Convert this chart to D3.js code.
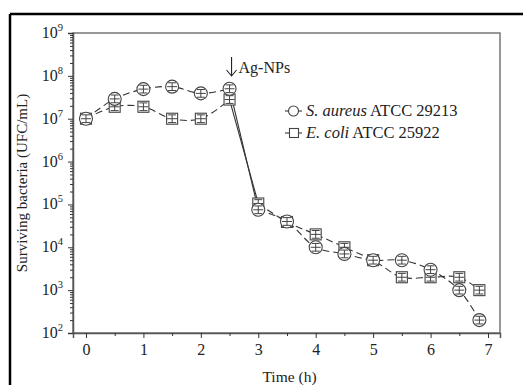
<!DOCTYPE html>
<html>
<head>
<meta charset="utf-8">
<script src="https://cdn.jsdelivr.net/npm/d3@7"></script>
<style>
body{margin:0;background:#fff;}
svg text{font-family:"Liberation Serif","DejaVu Serif",serif;fill:#222;}
</style>
</head>
<body>
<div id="chart"></div>
<script>
// time points (h)
var times = [0,0.5,1,1.5,2,2.5,3,3.5,4,4.5,5,5.5,6,6.5,6.85];
// S. aureus ATCC 29213 (UFC/mL)
var aureus = [1e7,2.9e7,4.9e7,5.6e7,3.9e7,5e7,7.5e4,4e4,1e4,7e3,5e3,5e3,3e3,1e3,2e2];
// E. coli ATCC 25922 (UFC/mL)
var coli = [1e7,1.9e7,1.9e7,1e7,1e7,2.8e7,1.05e5,3.9e4,2e4,1e4,5e3,2e3,2e3,2e3,1e3];
// error (log10 units) drawn inside the markers
var aureusErr = [0.09,0.09,0.09,0.09,0.09,0.09,0.09,0.09,0.09,0.09,0.09,0.09,0.09,0.09,0.09];
var coliErr = [0.09,0.09,0.09,0.09,0.09,0.09,0.09,0.09,0.09,0.09,0.09,0.09,0.09,0.09,0.09];
var xTicks = [0,1,2,3,4,5,6,7];
var xMinor = [0.5,1.5,2.5,3.5,4.5,5.5,6.5];
var yExp = [2,3,4,5,6,7,8,9];
var seriesNames = ["S. aureus", "E. coli"];
var seriesStrains = [" ATCC 29213", " ATCC 25922"];
var dropFrom = 2.5, dropTo = 3;

var width = 523, height = 385;
var m = {left:73, right:23, top:33, bottom:52};
var innerW = width - m.left - m.right;
var innerH = height - m.top - m.bottom;

var svg = d3.select("#chart").append("svg")
	.attr("width", width)
	.attr("height", height);

// outer black frame (only top and left show)
svg.append("line").attr("x1",10).attr("x2",width).attr("y1",14).attr("y2",14)
	.attr("stroke","#000").attr("stroke-width",2.5);
svg.append("line").attr("x1",10).attr("x2",10).attr("y1",14).attr("y2",height)
	.attr("stroke","#000").attr("stroke-width",2.5);

var g = svg.append("g").attr("transform","translate(" + m.left + "," + m.top + ")");

var xScale = d3.scaleLinear().domain([-0.226,7.209]).range([0,innerW]);
var yScale = d3.scaleLog().domain([1e2,1e9]).range([innerH,0]);

// plot box
g.append("rect").attr("width",innerW).attr("height",innerH)
	.attr("fill","none").attr("stroke","#777").attr("stroke-width",1.5);

// x axis
var xAxis = d3.axisBottom(xScale).tickValues(xTicks).tickSize(5).tickPadding(6).tickFormat(d3.format("d"));
var gx = g.append("g").attr("transform","translate(0," + innerH + ")").call(xAxis);
gx.select(".domain").attr("stroke","#555").attr("stroke-width",1.5);
gx.selectAll(".tick line").attr("stroke","#333");
gx.selectAll("text").style("font-size","16px").attr("fill","#222");
g.append("g").attr("transform","translate(0," + innerH + ")")
	.call(d3.axisBottom(xScale).tickValues(xMinor).tickSize(3).tickFormat(""))
	.call(function(s){ s.select(".domain").remove(); s.selectAll("line").attr("stroke","#333"); });

// y axis
var minor = [];
yExp.forEach(function(e){
	if(e < 9){ for(var k=2;k<10;k++){ minor.push(k*Math.pow(10,e)); } }
});
var gy = g.append("g").call(d3.axisLeft(yScale).tickValues(yExp.map(function(e){return Math.pow(10,e);})).tickSize(5).tickFormat(""));
gy.select(".domain").attr("stroke","#555").attr("stroke-width",1.5);
gy.selectAll(".tick line").attr("stroke","#333");
g.append("g").call(d3.axisLeft(yScale).tickValues(minor).tickSize(3).tickFormat(""))
	.call(function(s){ s.select(".domain").remove(); s.selectAll("line").attr("stroke","#333"); });

var yl = g.append("g").selectAll("text").data(yExp).enter().append("text")
	.attr("x",-10)
	.attr("y",function(d){ return yScale(Math.pow(10,d)) + 5; })
	.attr("text-anchor","end")
	.style("font-size","16px");
yl.append("tspan").text("10");
yl.append("tspan").attr("dy",-7).style("font-size","10.5px").text(function(d){return d;});

// axis titles
svg.append("text").attr("transform","translate(27," + (m.top + innerH/2) + ") rotate(-90)")
	.attr("text-anchor","middle").style("font-size","15px").text("Surviving bacteria (UFC/mL)");
svg.append("text").attr("x", m.left + innerW/2 + 3).attr("y", 382)
	.attr("text-anchor","middle").style("font-size","15.5px").text("Time (h)");

// series
var series = [
	{name:seriesNames[0], strain:seriesStrains[0], vals:aureus, err:aureusErr, shape:"circle"},
	{name:seriesNames[1], strain:seriesStrains[1], vals:coli, err:coliErr, shape:"square"}
];

var line = d3.line()
	.x(function(d){ return xScale(d.t); })
	.y(function(d){ return yScale(d.v); })
	.curve(d3.curveCatmullRom.alpha(0.5));

series.forEach(function(s){
	s.pts = times.map(function(t,i){ return {t:t, v:s.vals[i], e:s.err[i]}; });
	var before = s.pts.filter(function(p){ return p.t <= dropFrom; });
	var after = s.pts.filter(function(p){ return p.t >= dropTo; });
	[before, after].forEach(function(part){
		g.append("path").attr("d", line(part))
			.attr("fill","none").attr("stroke","#333").attr("stroke-width",1.1)
			.attr("stroke-dasharray","7,4");
	});
	var a = before[before.length-1], b = after[0];
	g.append("line")
		.attr("x1",xScale(a.t)).attr("y1",yScale(a.v))
		.attr("x2",xScale(b.t)).attr("y2",yScale(b.v))
		.attr("stroke","#333").attr("stroke-width",1.1);
});

function drawMarkers(s){
	var mk = g.append("g").selectAll("g").data(s.pts).enter().append("g")
		.attr("transform",function(d){ return "translate(" + xScale(d.t) + "," + yScale(d.v) + ")"; });
	if(s.shape == "circle"){
		mk.append("circle").attr("r",6.5).attr("fill","#fff").attr("stroke","#444").attr("stroke-width",1.1);
	} else {
		mk.append("rect").attr("x",-5.5).attr("y",-5.5).attr("width",11).attr("height",11)
			.attr("fill","#fff").attr("stroke","#444").attr("stroke-width",1.1);
	}
	// error bar inside marker
	mk.append("path").attr("d",function(d){
		var y0 = yScale(d.v), y1 = yScale(d.v*Math.pow(10,d.e)) - y0, y2 = yScale(d.v/Math.pow(10,d.e)) - y0;
		return "M-4," + y1 + "H4M0," + y1 + "V" + y2 + "M-4," + y2 + "H4M-5,0H5";
	}).attr("fill","none").attr("stroke","#444").attr("stroke-width",1);
}
// squares under circles
drawMarkers(series[1]);
drawMarkers(series[0]);

// annotation: arrow + text
var ax = xScale(dropFrom) + 2;
g.append("path").attr("d","M" + ax + ",24V43M" + (ax-5) + ",37L" + ax + ",43L" + (ax+5) + ",37")
	.attr("fill","none").attr("stroke","#222").attr("stroke-width",1.1);
g.append("text").attr("x", ax + 7).attr("y", 40)
	.style("font-size","16px").text("Ag-NPs");

// legend
var lg = g.selectAll(".legend").data(series).enter().append("g")
	.attr("class","legend")
	.attr("transform",function(d,i){ return "translate(" + (285 - m.left) + "," + (111 - m.top + i*22) + ")"; });
lg.append("line").attr("x1",0).attr("x2",17).attr("stroke","#333").attr("stroke-width",1.1);
lg.each(function(d){
	var el = d3.select(this);
	if(d.shape == "circle"){
		el.append("circle").attr("cx",8.5).attr("r",5).attr("fill","#fff").attr("stroke","#444").attr("stroke-width",1.1);
	} else {
		el.append("rect").attr("x",4.5).attr("y",-4.5).attr("width",9).attr("height",9).attr("fill","#fff").attr("stroke","#444").attr("stroke-width",1.1);
	}
});
var lt = lg.append("text").attr("x",21).attr("y",5).style("font-size","16.5px");
lt.append("tspan").style("font-style","italic").text(function(d){return d.name;});
lt.append("tspan").text(function(d){return d.strain;});
</script>
</body>
</html>
